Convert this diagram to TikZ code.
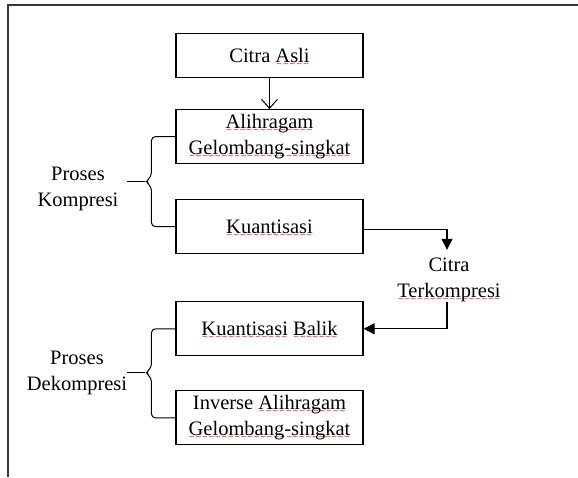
\documentclass[tikz,border=0pt]{standalone}
\usepackage{fontspec}
\setmainfont{Liberation Serif}
\newfontfamily\wavefont{DejaVu Sans}
\usepackage{xcolor}
\usetikzlibrary{arrows.meta,positioning}
\definecolor{framegray}{RGB}{55,55,55}
\definecolor{spellred}{RGB}{220,20,20}
\newcommand{\spellwave}[1]{\setbox0=\hbox{#1}\leavevmode\rlap{\smash{\lower4pt\hbox to\wd0{\color{spellred}%
  \xleaders\hbox{\wavefont\fontsize{7.5}{7.5}\selectfont\char"223C}\hfil}}}\box0\relax}

\begin{document}
\begin{tikzpicture}[
    x=1pt,y=-1pt,
    every node/.style={font=\fontsize{20.5}{26}\selectfont},
    stage/.style={rectangle,draw,line width=1.1pt,minimum width=187pt,
      inner sep=0pt,align=center},
    onerow/.style={stage,minimum height=44pt},
    tworow/.style={stage,minimum height=54pt},
    sidetext/.style={align=center,inner sep=0pt},
    brace/.style={line width=1pt,rounded corners=4pt},
    openarrow/.style={-{Straight Barb[length=9pt,width=16pt]},line width=1pt},
    fillarrow/.style={-{Triangle[length=11pt,width=11pt]},line width=1.1pt}
  ]
    \useasboundingbox (0,0) rectangle (578,477);
    \draw[framegray,line width=2.2pt] (8,477) -- (8,5) -- (578,5);

    \node[onerow] (citra) at (269.5,55.5) {Citra \spellwave{Asli}};
    \node[tworow,below=31pt of citra] (alih) {\spellwave{Alihragam}\\\spellwave{Gelombang-singkat}};
    \node[tworow,below=35pt of alih] (kuant) {\spellwave{Kuantisasi}};
    \node[tworow,below=47pt of kuant] (balik) {\spellwave{Kuantisasi} \spellwave{Balik}};
    \node[tworow,below=34pt of balik] (inverse) {Inverse \spellwave{Alihragam}\\\spellwave{Gelombang-singkat}};
    \node[sidetext] (cterk) at (449,280) {Citra\\\spellwave{Terkompresi}};
    \node[sidetext] (kompresi) at (78,189) {Proses\\Kompresi};
    \node[sidetext] (dekompresi) at (77,373) {Proses\\Dekompresi};

    \draw[openarrow] (citra) -- (alih);
    \draw[fillarrow] ([yshift=-3pt]kuant.east) -| ([xshift=-2pt,yshift=8pt]cterk.north);
    \draw[fillarrow] ([xshift=-2pt]cterk.south) |- (balik.east);

    % kurung kurawal
    \draw[brace] (alih.west) -- ++(-24,0) -- ++(0,40) -- ++(-6,5) coordinate (komptip)
      -- ++(6,5) |- (kuant.west);
    \draw[brace] (komptip) -- ++(-18,0);
    \draw[brace] (balik.west) -- ++(-24,0) -- ++(0,39) -- ++(-6,5) coordinate (dekomptip)
      -- ++(6,5) |- (inverse.west);
    \draw[brace] (dekomptip) -- ++(-18,0);
\end{tikzpicture}
\end{document}
